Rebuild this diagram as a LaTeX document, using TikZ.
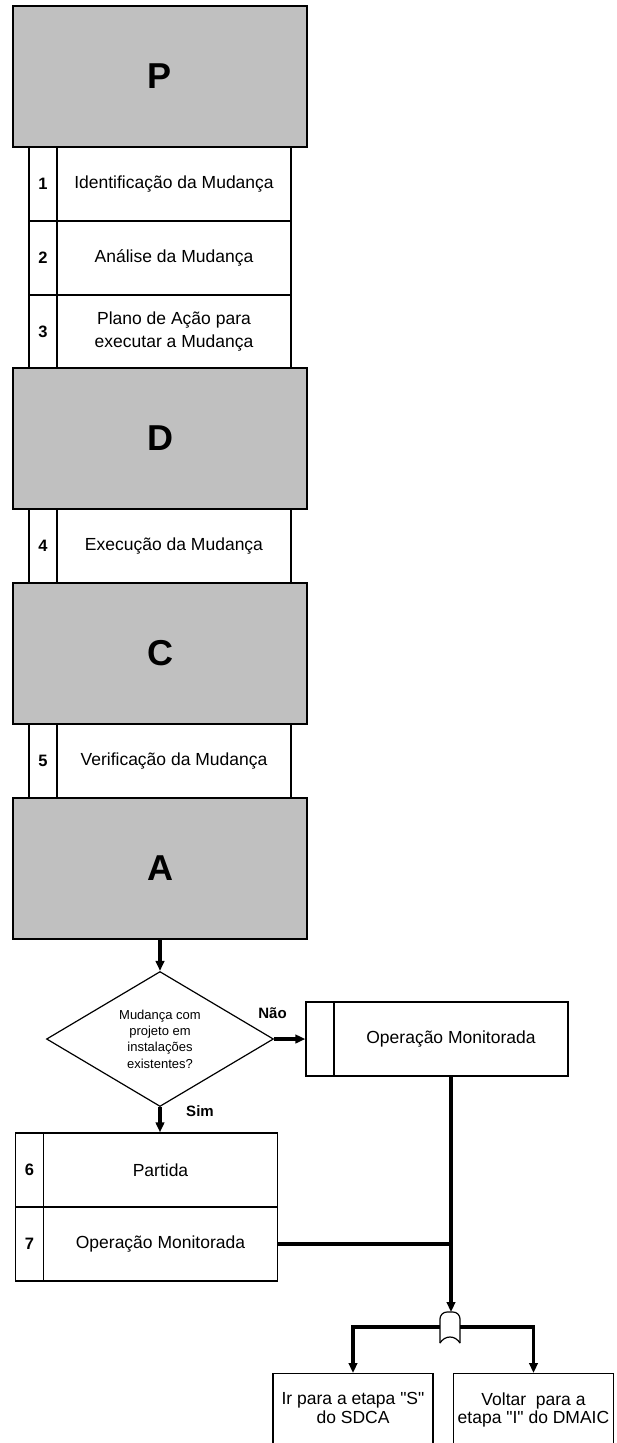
\documentclass[tikz,border=0pt]{standalone}
\usepackage{fontspec}
\setmainfont{Liberation Sans}[Ligatures=TeXOff]
\usetikzlibrary{arrows.meta,shapes.geometric}

\definecolor{phasegray}{RGB}{192,192,192}

\tikzset{
  phasebox/.style={draw, fill=phasegray, line width=1.3pt, minimum width=294pt, minimum height=141pt, inner sep=0pt, font=\fontsize{36}{36}\selectfont\bfseries},
  numcell/.style={draw, line width=1.3pt, minimum width=28pt, minimum height=74pt, inner sep=0pt, font=\fontsize{16.5}{16.5}\selectfont\bfseries},
  txtcell/.style={draw, line width=1.3pt, minimum width=234pt, minimum height=74pt, inner sep=0pt, align=center, font=\fontsize{17.5}{23}\selectfont},
  decision/.style={diamond, draw, line width=1.2pt, minimum width=227pt, minimum height=135pt, aspect=1.68, inner sep=0pt, align=center, font=\fontsize{13}{16.3}\selectfont},
  endbox/.style={draw, line width=1.3pt, minimum width=160pt, anchor=north, inner xsep=0pt, inner ysep=19pt, align=center, text depth=50pt, font=\fontsize{17.5}{18.5}\selectfont},
  flow/.style={line width=3.2pt, -{Triangle[length=10pt,width=8.5pt]}},
  joinline/.style={line width=3.2pt},
  answer/.style={font=\fontsize{15}{15}\selectfont\bfseries}
}

\begin{document}
\begin{tikzpicture}[x=1pt,y=-1pt]
  %%%%% START %%%%%
  \useasboundingbox (0,0) rectangle (616,1443);

  % P
  \node[phasebox] (P) at (160,76.5) {P};
  \node[numcell] (n1) at (43,184) {1};
  \node[txtcell] (t1) at (174,184) {Identificação da Mudança};
  \node[numcell] (n2) at (43,258) {2};
  \node[txtcell] (t2) at (174,258) {Análise da Mudança};
  \node[numcell] (n3) at (43,331.5) {3};
  \node[txtcell] (t3) at (174,331.5) {Plano de Ação para\\executar a Mudança};

  % D
  \node[phasebox] (D) at (160,438.5) {D};
  \node[numcell] (n4) at (43,546) {4};
  \node[txtcell] (t4) at (174,546) {Execução da Mudança};

  % C
  \node[phasebox] (C) at (160,653.5) {C};
  \node[numcell] (n5) at (43,761) {5};
  \node[txtcell] (t5) at (174,761) {Verificação da Mudança};

  % A
  \node[phasebox] (A) at (160,868.5) {A};

  % decisao
  \node[decision] (dec) at (160,1039) {Mudança com\\projeto em\\instalações\\existentes?};
  \draw[flow] (A.south) -- (dec.north);

  \node[numcell] (omnum) at (320,1039) {};
  \node[txtcell] (omtxt) at (451,1039) {Operação Monitorada};
  \draw[flow] (dec.east) -- (omnum.west);
  \node[answer] (nao) at (272.5,1013) {Não};

  \node[numcell] (n6) at (29.5,1170) {6};
  \node[txtcell] (t6) at (160.5,1170) {Partida};
  \node[numcell] (n7) at (29.5,1244) {7};
  \node[txtcell] (t7) at (160.5,1244) {Operação Monitorada};
  \draw[flow] (dec.south) -- (dec.south |- t6.north);
  \node[answer] (sim) at (200,1111) {Sim};

  % juncao
  \coordinate (mg) at (450,1327);
  \coordinate (mgtop) at (450,1312);
  \coordinate (mgL) at (440,1327);
  \coordinate (mgR) at (460,1327);
  \draw[flow] (omtxt.south) -- (omtxt.south |- mgtop);
  \draw[joinline] (t7.east) -- (t7.east -| omtxt.south);
  \fill[white] (440,1343) -- (440,1312) -- (460,1312) -- (460,1343) -- cycle;
  \draw[line width=1.2pt, rounded corners=7pt] (440,1343) -- (440,1312) -- (460,1312) -- (460,1343);
  \draw[line width=1.2pt] (460,1343) .. controls (455,1335) and (445,1335) .. (440,1343);

  \node[endbox] (ir) at (353,1373) {Ir para a etapa "S"\\do SDCA};
  \node[endbox] (volta) at (533.5,1373) {Voltar\ \ para a\\etapa "I" do DMAIC};
  \draw[flow] (mgL) -| (ir.north);
  \draw[flow] (mgR) -| (volta.north);

  %%%%% END %%%%%
\end{tikzpicture}
\end{document}
